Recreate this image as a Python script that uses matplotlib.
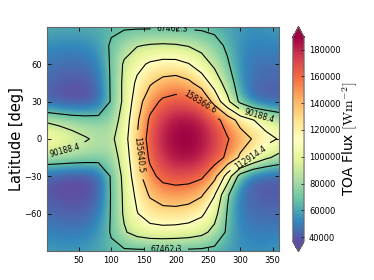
import numpy as np
import matplotlib
matplotlib.use("Agg")
import matplotlib.pyplot as plt

# grid nodes of the flux map
lons = list(range(0, 361, 20))
lats = list(range(90, -91, -15))

# TOA flux in units of 1000 W m^-2, one row per latitude (90 -> -90)
row_p90 = [62, 62, 62, 62, 63, 64, 64.5, 64.5, 64.5, 64.5, 64.5, 64, 63.5, 62, 59, 56, 55, 56, 58]
row_p75 = [54, 52, 52, 53, 57, 70, 82, 89, 92, 93, 92, 89, 83, 75, 64, 54, 51, 51, 52]
row_p60 = [48, 46, 45, 46, 52, 70, 93, 107, 116, 120, 120, 114, 101, 86, 70, 53, 47, 46, 47]
row_p45 = [44, 41, 39, 40, 46, 70, 95, 117, 133, 143, 146, 140, 126, 104, 80, 56, 45, 43, 43]
row_p30 = [40, 37, 35, 36, 42, 70, 95, 125, 150, 162, 166, 164, 157, 128, 96, 62, 44, 40, 40]
row_p15 = [87, 83, 79, 77, 76, 78, 100, 132, 162, 178, 186, 187, 181, 167, 148, 128, 114, 99, 87]
row_0 = [111, 106, 99, 92, 86, 86, 104, 136, 168, 183, 189, 190, 186, 174, 160, 146, 134, 122, 111]
row_m15 = [84, 83, 81, 79, 77, 79, 100, 132, 162, 178, 186, 187, 181, 169, 154, 132, 111, 94, 84]
row_m30 = [40, 37, 35, 36, 42, 70, 96, 126, 152, 165, 168, 167, 162, 142, 104, 58, 42, 40, 40]
row_m45 = [40, 37, 36, 37, 43, 69, 94, 118, 138, 146, 148, 146, 138, 114, 70, 48, 42, 40, 40]
row_m60 = [45, 43, 42, 43, 49, 69, 93, 112, 124, 128, 128, 125, 117, 98, 66, 49, 45, 44, 45]
row_m75 = [51, 49, 49, 50, 56, 69, 88, 98, 103, 104, 103, 101, 96, 84, 64, 52, 50, 49, 50]
row_m90 = [58, 57, 57, 58, 61, 64, 64.5, 64.5, 64.5, 64.5, 64.5, 64, 63.5, 62, 58, 55, 54, 55, 57]

levels = [67462.3, 90188.4, 112914.4, 135640.5, 158366.6]
cbar_ticks = [40000, 60000, 80000, 100000, 120000, 140000, 160000, 180000]
flux_min = 36700
flux_max = 189400


def build_field():
    rows = [row_p90, row_p75, row_p60, row_p45, row_p30, row_p15, row_0,
            row_m15, row_m30, row_m45, row_m60, row_m75, row_m90]
    return np.array(rows) * 1000.0


def make_plot(flux):
    plt.rcParams['mathtext.fontset'] = 'cm'
    plt.rcParams['xtick.direction'] = 'in'
    plt.rcParams['ytick.direction'] = 'in'
    plt.rcParams['xtick.top'] = True
    plt.rcParams['ytick.right'] = True

    fig = plt.figure(figsize=(3.74, 2.8), dpi=100)
    ax = fig.add_axes([0.125, 0.104, 0.621, 0.8])
    cax = fig.add_axes([0.783, 0.101, 0.030, 0.803])

    # pixel centres sit on the grid nodes
    dlon = lons[1] - lons[0]
    dlat = lats[0] - lats[1]
    ext = (lons[0] - dlon / 2, lons[-1] + dlon / 2, lats[-1] - dlat / 2, lats[0] + dlat / 2)
    img = ax.imshow(flux, cmap='Spectral_r', extent=ext, origin='upper', aspect='auto',
                    interpolation='bicubic', vmin=flux_min, vmax=flux_max)

    lon2d, lat2d = np.meshgrid(lons, lats)
    cs = ax.contour(lon2d, lat2d, flux, levels=levels, colors='k', linewidths=0.8)
    spots = [(195, 88), (185, -88), (30, -14), (330, 19), (318, -17), (138, -13), (238, 30)]
    texts = ax.clabel(cs, fmt='%.1f', fontsize=5.5, manual=spots, inline=True)
    for t in texts:
        t.set_clip_on(True)

    ax.set_xlim(0, 360)
    ax.set_ylim(-90, 90)
    ax.set_xticks([50, 100, 150, 200, 250, 300, 350])
    ax.set_yticks([-60, -30, 0, 30, 60])
    ax.tick_params(labelsize=6, length=3, width=0.6)
    ax.set_ylabel('Latitude [deg]', fontsize=10.5, labelpad=0)
    for s in ax.spines.values():
        s.set_color('0.4')

    cb = fig.colorbar(img, cax=cax, extend='both', ticks=cbar_ticks)
    cb.ax.tick_params(labelsize=6, length=2, width=0.5)
    cb.set_label(r'TOA Flux $[\mathrm{Wm}^{-2}]$', fontsize=10, labelpad=0)
    cb.outline.set_edgecolor('0.4')

    fig.savefig('out.png', dpi=100)


if __name__ == "__main__":
    make_plot(build_field())
